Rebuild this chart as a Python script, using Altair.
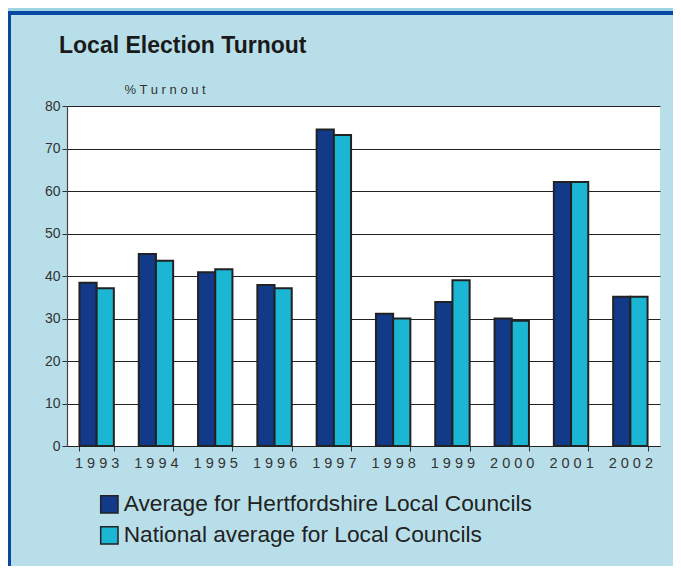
import altair as alt
import pandas as pd

years = ["1993", "1994", "1995", "1996", "1997", "1998", "1999", "2000", "2001", "2002"]
herts = [38.4, 45.2, 40.9, 37.9, 74.5, 31.1, 33.9, 30.0, 62.1, 35.1]
national = [37.1, 43.6, 41.6, 37.1, 73.2, 30.0, 39.0, 29.5, 62.1, 35.1]
series = ["Average for Hertfordshire Local Councils", "National average for Local Councils"]
colors = ["#123a88", "#1cb6d5"]

rows = []
for i, y in enumerate(years):
    rows.append({"year": y, "series": series[0], "value": herts[i]})
    rows.append({"year": y, "series": series[1], "value": national[i]})
df = pd.DataFrame(rows)

W, H = 593, 340
PANEL = "#b8dfe9"
OUTER = "#9dd4e3"
BORDER = "#0a47a0"

bars = alt.Chart(df).mark_bar(stroke="#222222", strokeWidth=2).encode(
    x=alt.X("year:N", sort=years,
            scale=alt.Scale(paddingInner=0.42, paddingOuter=0.21),
            axis=alt.Axis(title=None, tickBand="extent", labelAngle=0,
                          labelExpr="join(split(datum.label, ''), ' ')",
                          labelFont="Liberation Sans", labelFontSize=14.5,
                          labelColor="#333333", labelPadding=5, tickSize=5,
                          tickColor="#333333", domainColor="#222222",
                          domainWidth=1.2, grid=False)),
    xOffset=alt.XOffset("series:N", sort=series),
    y=alt.Y("value:Q", scale=alt.Scale(domain=[0, 80]),
            axis=alt.Axis(values=list(range(0, 90, 10)), title="% T u r n o u t",
                          titleAngle=0, titleAlign="left", titleBaseline="middle",
                          titleX=57, titleY=-17, titleFont="Liberation Sans",
                          titleFontSize=13, titleFontWeight="normal",
                          titleColor="#333333",
                          labelFont="Liberation Sans", labelFontSize=14,
                          labelColor="#333333", labelPadding=2, tickSize=5,
                          tickColor="#333333", domainColor="#444444",
                          domainWidth=1.2, grid=True, gridColor="#222222",
                          gridWidth=1)),
    color=alt.Color("series:N", sort=series,
                    scale=alt.Scale(domain=series, range=colors),
                    legend=alt.Legend(title=None, orient="none", legendX=31,
                                      legendY=387, symbolType="square",
                                      symbolSize=300, symbolStrokeColor="#222222",
                                      symbolStrokeWidth=1.5,
                                      labelFont="Liberation Sans", labelFontSize=22.7,
                                      labelColor="#222222", rowPadding=6,
                                      labelOffset=3, labelLimit=600)),
)

outer_top = alt.Chart(df).mark_rule(color=OUTER, strokeWidth=6).encode(
    x=alt.value(-70), x2=alt.value(W + 40), y=alt.value(-97))
border_top = alt.Chart(df).mark_rule(color=BORDER, strokeWidth=2.5).encode(
    x=alt.value(-59), x2=alt.value(W + 40), y=alt.value(-93))
border_left = alt.Chart(df).mark_rule(color=BORDER, strokeWidth=2.5).encode(
    x=alt.value(-58), y=alt.value(-94), y2=alt.value(H + 140))

chart = alt.layer(bars, outer_top, border_top, border_left).properties(
    width=W, height=H,
    autosize=alt.AutoSizeParams(type="none"),
    padding={"left": 59, "top": 98, "right": 13, "bottom": 120},
    background=PANEL,
    title=alt.TitleParams("Local Election Turnout", anchor="start", frame="group",
                          font="Liberation Sans", fontSize=23, fontWeight="bold",
                          color="#1a1a1a", dx=-8, offset=-52),
).configure_view(fill="white", stroke=None)

chart.save("out.html", embed_options={"renderer": "svg", "actions": False})
